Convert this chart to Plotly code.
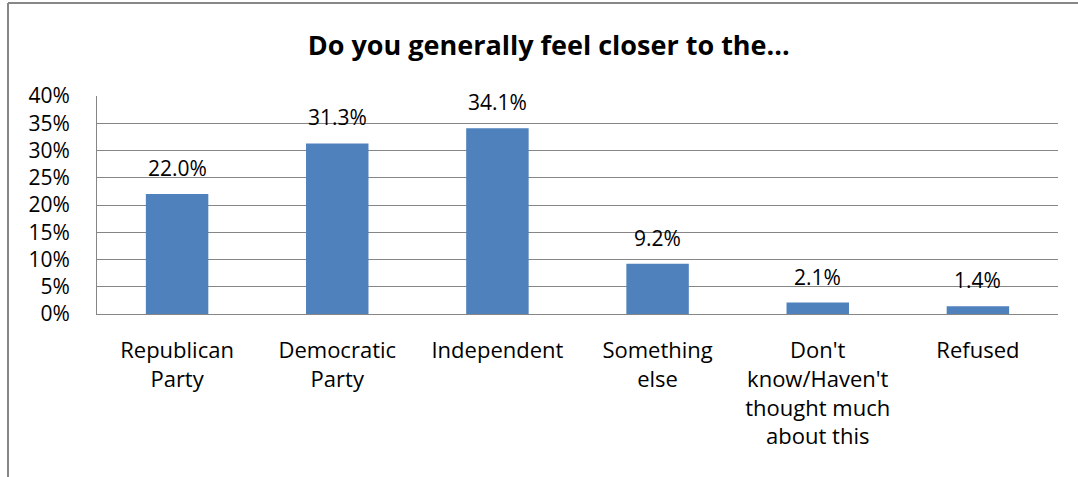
import plotly.graph_objects as go

categories = ["Republican<br>Party", "Democratic<br>Party", "Independent", "Something<br>else",
              "Don't<br>know/Haven't<br>thought much<br>about this", "Refused"]
values = [22.0, 31.3, 34.1, 9.2, 2.1, 1.4]
y_ticks = [0, 5, 10, 15, 20, 25, 30, 35, 40]
y_tick_labels = [f"{v}%" for v in y_ticks]

FONT = "Open Sans"
GRID = "#868686"

fig = go.Figure(go.Bar(x=categories, y=values, marker=dict(color="#4F81BD", line=dict(width=0)),
                       width=0.39, hoverinfo="skip"))

for c, v in zip(categories, values):
    fig.add_annotation(x=c, y=v, text=f"{v:.1f}%", showarrow=False, yanchor="bottom",
                       yshift=10, font=dict(family=FONT, size=21, color="#000000"))

# outer chart frame (left and top edges visible)
fig.add_shape(type="line", xref="paper", yref="paper", x0=-0.0926, x1=-0.0926, y0=-0.76, y1=1.427,
              line=dict(color="#878787", width=2))
fig.add_shape(type="line", xref="paper", yref="paper", x0=-0.0926, x1=1.03, y0=1.427, y1=1.427,
              line=dict(color="#878787", width=2))

fig.update_layout(
    width=1078, height=477,
    margin=dict(l=97, r=20, t=96, b=163),
    paper_bgcolor="white", plot_bgcolor="white",
    showlegend=False,
    title=dict(text="<b>Do you generally feel closer to the...</b>", x=0.509, xanchor="center",
               y=0.904, yanchor="middle", yref="container",
               font=dict(family=FONT, size=27, color="#000000")),
    font=dict(family=FONT, size=21, color="#000000"),
    bargap=0.61,
)
fig.update_yaxes(range=[0, 40], tickvals=y_ticks, ticktext=y_tick_labels, showgrid=True,
                 gridcolor=GRID, gridwidth=1, showline=True, linecolor=GRID, linewidth=1,
                 ticks="", ticklabelstandoff=22, zeroline=False,
                 tickfont=dict(family=FONT, size=21, color="#000000"))
fig.update_xaxes(showline=True, linecolor=GRID, linewidth=1, ticks="", ticklabelstandoff=17,
                 tickfont=dict(family=FONT, size=22, color="#000000"), tickangle=0)

fig.write_html("out.html", config={"displayModeBar": False},
               post_script="document.body.style.margin='0';")
